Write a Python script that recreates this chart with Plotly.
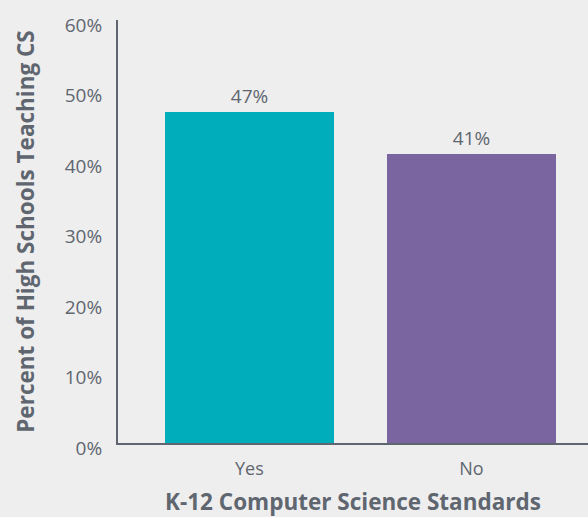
import plotly.graph_objects as go

categories = ["Yes", "No"]
values = [47, 41]
labels = ["47%", "41%"]
bar_colors = ["#00ADBB", "#7A65A0"]

tick_vals = [0, 10, 20, 30, 40, 50, 60]
tick_text = ["0%", "10%", "20%", "30%", "40%", "50%", "60%"]

text_color = "#5F6670"

fig = go.Figure()

fig.add_trace(go.Bar(
    x=[0, 1],
    y=values,
    width=0.76,
    marker=dict(color=bar_colors, line=dict(width=0)),
    text=labels,
    textposition="outside",
    textfont=dict(size=19, color=text_color),
    cliponaxis=False,
))

fig.update_layout(
    width=588,
    height=517,
    paper_bgcolor="#EEEEEE",
    plot_bgcolor="#EEEEEE",
    font=dict(family="Open Sans, sans-serif", color=text_color),
    margin=dict(l=118, r=0, t=20, b=74),
    showlegend=False,
    bargap=0,
    xaxis=dict(
        range=[-0.592, 1.525],
        tickmode="array",
        tickvals=[0, 1],
        ticktext=categories,
        tickfont=dict(size=18, color=text_color),
        showgrid=False,
        zeroline=False,
        showline=True,
        linecolor=text_color,
        linewidth=2,
        ticks="",
        automargin=False,
        ticklabelstandoff=8,
        title=dict(text="<b>K-12 Computer Science Standards</b>",
                   font=dict(size=22.5, color=text_color), standoff=25),
    ),
    yaxis=dict(
        range=[0, 60],
        tickmode="array",
        tickvals=tick_vals,
        ticktext=tick_text,
        tickfont=dict(size=19, color=text_color),
        showgrid=False,
        zeroline=False,
        showline=True,
        linecolor=text_color,
        linewidth=2,
        ticks="",
        automargin=False,
        ticklabelstandoff=10,
        ticklabelshift=5,
        title=dict(text="<b>Percent of High Schools Teaching CS</b>",
                   font=dict(size=22.5, color=text_color), standoff=24),
    ),
)

fig.write_html(
    "out.html",
    config=dict(displayModeBar=False),
    post_script="document.body.style.margin='0';document.body.style.background='#EEEEEE';",
)
